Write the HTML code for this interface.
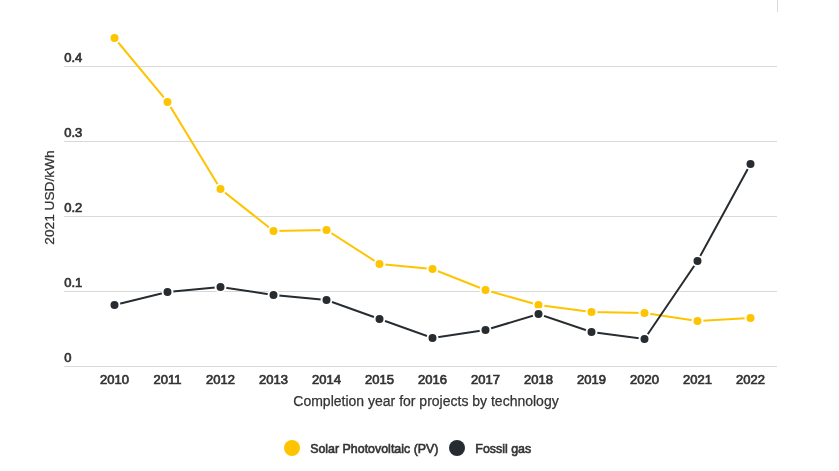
<!DOCTYPE html>
<html><head><meta charset="utf-8"><style>
html,body{margin:0;padding:0;background:#fff;}
svg{display:block;will-change:transform;}
text{font-family:"Liberation Sans",sans-serif;fill:#333;}
.md{font-size:13px;stroke:#333;stroke-width:0.7px;}
.yt{font-size:13.7px;stroke:#333;stroke-width:0.25px;}
.at{font-size:14px;stroke:#333;stroke-width:0.25px;}
.lg{font-size:12.42px;stroke:#333;stroke-width:0.6px;}
</style></head><body>
<svg width="839" height="471" viewBox="0 0 839 471">

<line x1="777.5" x2="777.5" y1="0" y2="12" stroke="#d9d9d9" stroke-width="1"/>
<line x1="64" x2="777" y1="66.5" y2="66.5" stroke="#d9d9d9" stroke-width="1"/>
<line x1="64" x2="777" y1="141.5" y2="141.5" stroke="#d9d9d9" stroke-width="1"/>
<line x1="64" x2="777" y1="216.5" y2="216.5" stroke="#d9d9d9" stroke-width="1"/>
<line x1="64" x2="777" y1="291.5" y2="291.5" stroke="#d9d9d9" stroke-width="1"/>
<line x1="64" x2="777" y1="366.5" y2="366.5" stroke="#d9d9d9" stroke-width="1"/>
<text x="64.2" y="62" class="md">0.4</text>
<text x="64.2" y="137" class="md">0.3</text>
<text x="64.2" y="212" class="md">0.2</text>
<text x="64.2" y="287" class="md">0.1</text>
<text x="64.2" y="362" class="md">0</text>
<text x="114.5" y="384" class="md" text-anchor="middle">2010</text>
<text x="167.5" y="384" class="md" text-anchor="middle">2011</text>
<text x="220.5" y="384" class="md" text-anchor="middle">2012</text>
<text x="273.5" y="384" class="md" text-anchor="middle">2013</text>
<text x="326.5" y="384" class="md" text-anchor="middle">2014</text>
<text x="379.5" y="384" class="md" text-anchor="middle">2015</text>
<text x="432.5" y="384" class="md" text-anchor="middle">2016</text>
<text x="485.5" y="384" class="md" text-anchor="middle">2017</text>
<text x="538.5" y="384" class="md" text-anchor="middle">2018</text>
<text x="591.5" y="384" class="md" text-anchor="middle">2019</text>
<text x="644.5" y="384" class="md" text-anchor="middle">2020</text>
<text x="697.5" y="384" class="md" text-anchor="middle">2021</text>
<text x="750.5" y="384" class="md" text-anchor="middle">2022</text>
<text class="yt" transform="translate(54,197.5) rotate(-90)" text-anchor="middle">2021 USD/kWh</text>
<text class="at" x="426" y="406" text-anchor="middle">Completion year for projects by technology</text>
<polyline points="114.5,38 167.5,101.9 220.5,189 273.5,231 326.5,230 379.5,264 432.5,269 485.5,290 538.5,305 591.5,312 644.5,313 697.5,321 750.5,318" fill="none" stroke="#ffc400" stroke-width="2"/>
<polyline points="114.5,305 167.5,292 220.5,287 273.5,295 326.5,300 379.5,319 432.5,338 485.5,330 538.5,314 591.5,332 644.5,339 697.5,261 750.5,164" fill="none" stroke="#272c30" stroke-width="2"/>
<circle cx="114.5" cy="38" r="5" fill="#ffc400" stroke="#fff" stroke-width="2"/>
<circle cx="167.5" cy="101.9" r="5" fill="#ffc400" stroke="#fff" stroke-width="2"/>
<circle cx="220.5" cy="189" r="5" fill="#ffc400" stroke="#fff" stroke-width="2"/>
<circle cx="273.5" cy="231" r="5" fill="#ffc400" stroke="#fff" stroke-width="2"/>
<circle cx="326.5" cy="230" r="5" fill="#ffc400" stroke="#fff" stroke-width="2"/>
<circle cx="379.5" cy="264" r="5" fill="#ffc400" stroke="#fff" stroke-width="2"/>
<circle cx="432.5" cy="269" r="5" fill="#ffc400" stroke="#fff" stroke-width="2"/>
<circle cx="485.5" cy="290" r="5" fill="#ffc400" stroke="#fff" stroke-width="2"/>
<circle cx="538.5" cy="305" r="5" fill="#ffc400" stroke="#fff" stroke-width="2"/>
<circle cx="591.5" cy="312" r="5" fill="#ffc400" stroke="#fff" stroke-width="2"/>
<circle cx="644.5" cy="313" r="5" fill="#ffc400" stroke="#fff" stroke-width="2"/>
<circle cx="697.5" cy="321" r="5" fill="#ffc400" stroke="#fff" stroke-width="2"/>
<circle cx="750.5" cy="318" r="5" fill="#ffc400" stroke="#fff" stroke-width="2"/>
<circle cx="114.5" cy="305" r="5" fill="#272c30" stroke="#fff" stroke-width="2"/>
<circle cx="167.5" cy="292" r="5" fill="#272c30" stroke="#fff" stroke-width="2"/>
<circle cx="220.5" cy="287" r="5" fill="#272c30" stroke="#fff" stroke-width="2"/>
<circle cx="273.5" cy="295" r="5" fill="#272c30" stroke="#fff" stroke-width="2"/>
<circle cx="326.5" cy="300" r="5" fill="#272c30" stroke="#fff" stroke-width="2"/>
<circle cx="379.5" cy="319" r="5" fill="#272c30" stroke="#fff" stroke-width="2"/>
<circle cx="432.5" cy="338" r="5" fill="#272c30" stroke="#fff" stroke-width="2"/>
<circle cx="485.5" cy="330" r="5" fill="#272c30" stroke="#fff" stroke-width="2"/>
<circle cx="538.5" cy="314" r="5" fill="#272c30" stroke="#fff" stroke-width="2"/>
<circle cx="591.5" cy="332" r="5" fill="#272c30" stroke="#fff" stroke-width="2"/>
<circle cx="644.5" cy="339" r="5" fill="#272c30" stroke="#fff" stroke-width="2"/>
<circle cx="697.5" cy="261" r="5" fill="#272c30" stroke="#fff" stroke-width="2"/>
<circle cx="750.5" cy="164" r="5" fill="#272c30" stroke="#fff" stroke-width="2"/>
<circle cx="292" cy="448" r="8" fill="#ffc400"/>
<text class="lg" x="310.2" y="453">Solar Photovoltaic (PV)</text>
<circle cx="457" cy="448" r="8" fill="#272c30"/>
<text class="lg" x="475.3" y="453">Fossil gas</text>
</svg>
</body></html>
